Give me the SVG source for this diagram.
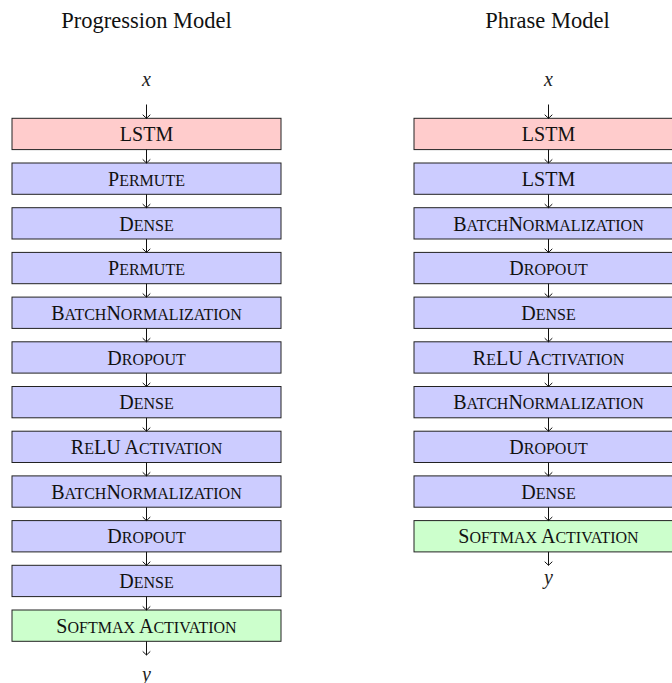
<svg xmlns="http://www.w3.org/2000/svg" width="672" height="683" viewBox="0 0 672 683">
  <style>
    .title { font-family: "Liberation Serif", "Times New Roman", serif; font-size: 22.5px; text-anchor: middle; fill: #111; }
    .lbl { font-family: "Liberation Serif", "Times New Roman", serif; font-size: 20px; text-anchor: middle; fill: #111; }
    .sc { font-size: 16px; }
    .math { font-family: "Liberation Serif", "Times New Roman", serif; font-style: italic; font-size: 20px; text-anchor: middle; fill: #222; }
    .box { stroke: #222; stroke-width: 1; }
    .lstm { fill: #ffcccc; }
    .layer { fill: #ccccff; }
    .out { fill: #ccffcc; }
    .arr { stroke: #111; stroke-width: 1; fill: none; marker-end: url(#tip); }
  </style>
  <defs>
    <!-- curved "to"-style arrow tip, drawn as an open stroke -->
    <marker id="tip" viewBox="-5 -5 7 10" markerWidth="7" markerHeight="10" refX="0" refY="0" orient="auto" markerUnits="userSpaceOnUse">
      <path d="M -3.6 -3.8 Q -0.8 -0.9 0 0 Q -0.8 0.9 -3.6 3.8" fill="none" stroke="#111" stroke-width="1"/>
    </marker>
  </defs>

  <text class="title" x="146.5" y="28.3">Progression Model</text>
  <text class="title" x="547.5" y="28.3">Phrase Model</text>

  <!-- Progression model stack -->
  <g id="prog-x"><text class="math" x="146.5" y="85.5">x</text></g>
  <g id="prog-lstm"><rect class="box lstm" x="12" y="118.3" width="269" height="31.3"/><text class="lbl" x="146.5" y="141.1">LSTM</text></g>
  <g id="prog-permute1"><rect class="box layer" x="12" y="163" width="269" height="31.3"/><text class="lbl" x="146.5" y="185.8">P<tspan class="sc">ERMUTE</tspan></text></g>
  <g id="prog-dense1"><rect class="box layer" x="12" y="207.7" width="269" height="31.3"/><text class="lbl" x="146.5" y="230.5">D<tspan class="sc">ENSE</tspan></text></g>
  <g id="prog-permute2"><rect class="box layer" x="12" y="252.4" width="269" height="31.3"/><text class="lbl" x="146.5" y="275.2">P<tspan class="sc">ERMUTE</tspan></text></g>
  <g id="prog-bn1"><rect class="box layer" x="12" y="297.1" width="269" height="31.3"/><text class="lbl" x="146.5" y="319.9">B<tspan class="sc">ATCH</tspan>N<tspan class="sc">ORMALIZATION</tspan></text></g>
  <g id="prog-dropout1"><rect class="box layer" x="12" y="341.8" width="269" height="31.3"/><text class="lbl" x="146.5" y="364.6">D<tspan class="sc">ROPOUT</tspan></text></g>
  <g id="prog-dense2"><rect class="box layer" x="12" y="386.5" width="269" height="31.3"/><text class="lbl" x="146.5" y="409.3">D<tspan class="sc">ENSE</tspan></text></g>
  <g id="prog-relu"><rect class="box layer" x="12" y="431.2" width="269" height="31.3"/><text class="lbl" x="146.5" y="454">R<tspan class="sc">E</tspan>LU A<tspan class="sc">CTIVATION</tspan></text></g>
  <g id="prog-bn2"><rect class="box layer" x="12" y="475.9" width="269" height="31.3"/><text class="lbl" x="146.5" y="498.7">B<tspan class="sc">ATCH</tspan>N<tspan class="sc">ORMALIZATION</tspan></text></g>
  <g id="prog-dropout2"><rect class="box layer" x="12" y="520.6" width="269" height="31.3"/><text class="lbl" x="146.5" y="543.4">D<tspan class="sc">ROPOUT</tspan></text></g>
  <g id="prog-dense3"><rect class="box layer" x="12" y="565.3" width="269" height="31.3"/><text class="lbl" x="146.5" y="588.1">D<tspan class="sc">ENSE</tspan></text></g>
  <g id="prog-softmax"><rect class="box out" x="12" y="610" width="269" height="31.3"/><text class="lbl" x="146.5" y="632.8">S<tspan class="sc">OFTMAX</tspan> A<tspan class="sc">CTIVATION</tspan></text></g>
  <g id="prog-y"><text class="math" x="146.5" y="680.5">y</text></g>

  <!-- Phrase model stack (runs past the right edge) -->
  <g id="phr-x"><text class="math" x="548.5" y="85.5">x</text></g>
  <g id="phr-lstm1"><rect class="box lstm" x="414" y="118.3" width="269" height="31.3"/><text class="lbl" x="548.5" y="141.1">LSTM</text></g>
  <g id="phr-lstm2"><rect class="box layer" x="414" y="163" width="269" height="31.3"/><text class="lbl" x="548.5" y="185.8">LSTM</text></g>
  <g id="phr-bn1"><rect class="box layer" x="414" y="207.7" width="269" height="31.3"/><text class="lbl" x="548.5" y="230.5">B<tspan class="sc">ATCH</tspan>N<tspan class="sc">ORMALIZATION</tspan></text></g>
  <g id="phr-dropout1"><rect class="box layer" x="414" y="252.4" width="269" height="31.3"/><text class="lbl" x="548.5" y="275.2">D<tspan class="sc">ROPOUT</tspan></text></g>
  <g id="phr-dense1"><rect class="box layer" x="414" y="297.1" width="269" height="31.3"/><text class="lbl" x="548.5" y="319.9">D<tspan class="sc">ENSE</tspan></text></g>
  <g id="phr-relu"><rect class="box layer" x="414" y="341.8" width="269" height="31.3"/><text class="lbl" x="548.5" y="364.6">R<tspan class="sc">E</tspan>LU A<tspan class="sc">CTIVATION</tspan></text></g>
  <g id="phr-bn2"><rect class="box layer" x="414" y="386.5" width="269" height="31.3"/><text class="lbl" x="548.5" y="409.3">B<tspan class="sc">ATCH</tspan>N<tspan class="sc">ORMALIZATION</tspan></text></g>
  <g id="phr-dropout2"><rect class="box layer" x="414" y="431.2" width="269" height="31.3"/><text class="lbl" x="548.5" y="454">D<tspan class="sc">ROPOUT</tspan></text></g>
  <g id="phr-dense2"><rect class="box layer" x="414" y="475.9" width="269" height="31.3"/><text class="lbl" x="548.5" y="498.7">D<tspan class="sc">ENSE</tspan></text></g>
  <g id="phr-softmax"><rect class="box out" x="414" y="520.6" width="269" height="31.3"/><text class="lbl" x="548.5" y="543.4">S<tspan class="sc">OFTMAX</tspan> A<tspan class="sc">CTIVATION</tspan></text></g>
  <g id="phr-y"><text class="math" x="548.5" y="584">y</text></g>

  <!-- connectors -->
  <g id="connectors">
    <path class="arr" d="M146.5 104.5 V118.3"/>
    <path class="arr" d="M146.5 149.6 V163"/>
    <path class="arr" d="M146.5 194.3 V207.7"/>
    <path class="arr" d="M146.5 239 V252.4"/>
    <path class="arr" d="M146.5 283.7 V297.1"/>
    <path class="arr" d="M146.5 328.4 V341.8"/>
    <path class="arr" d="M146.5 373.1 V386.5"/>
    <path class="arr" d="M146.5 417.8 V431.2"/>
    <path class="arr" d="M146.5 462.5 V475.9"/>
    <path class="arr" d="M146.5 507.2 V520.6"/>
    <path class="arr" d="M146.5 551.9 V565.3"/>
    <path class="arr" d="M146.5 596.6 V610"/>
    <path class="arr" d="M146.5 641.3 V655"/>

    <path class="arr" d="M548.5 104.5 V118.3"/>
    <path class="arr" d="M548.5 149.6 V163"/>
    <path class="arr" d="M548.5 194.3 V207.7"/>
    <path class="arr" d="M548.5 239 V252.4"/>
    <path class="arr" d="M548.5 283.7 V297.1"/>
    <path class="arr" d="M548.5 328.4 V341.8"/>
    <path class="arr" d="M548.5 373.1 V386.5"/>
    <path class="arr" d="M548.5 417.8 V431.2"/>
    <path class="arr" d="M548.5 462.5 V475.9"/>
    <path class="arr" d="M548.5 507.2 V520.6"/>
    <path class="arr" d="M548.5 551.9 V565.3"/>
  </g>
</svg>
